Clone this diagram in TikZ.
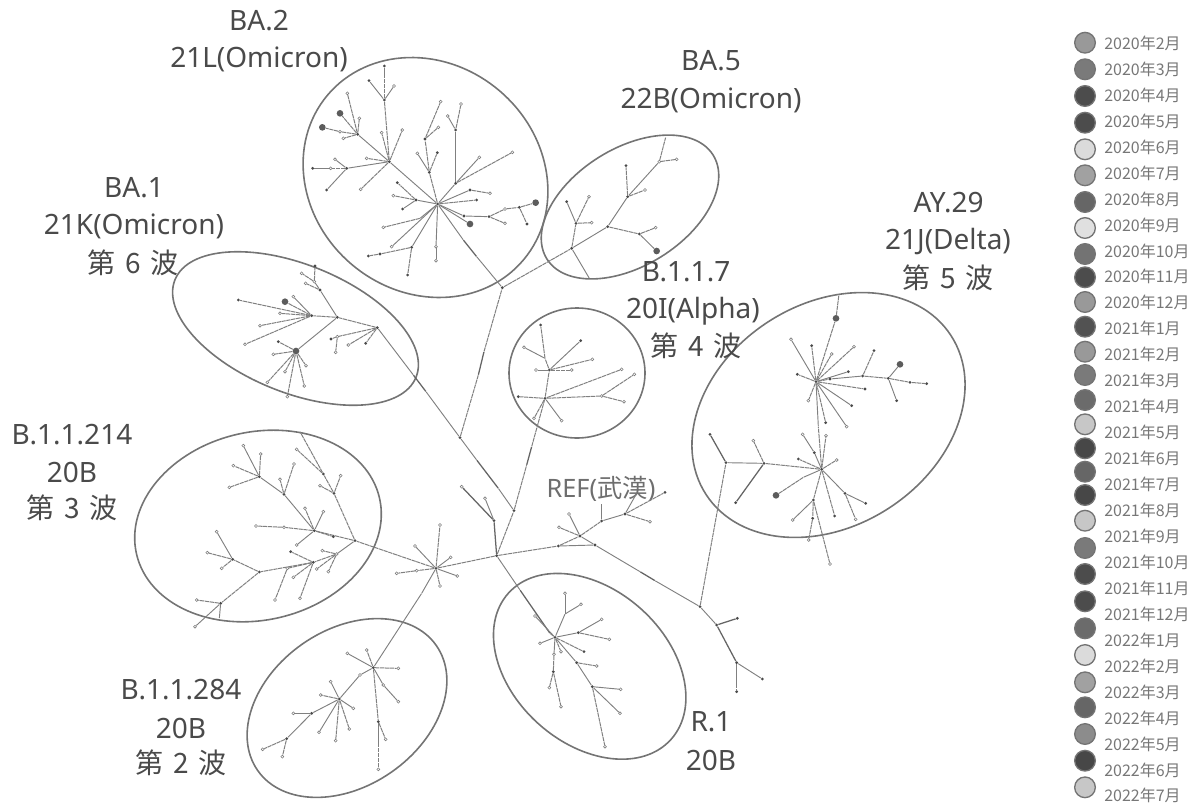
\documentclass[tikz,border=0pt]{standalone}
\usepackage{fontspec}
\usetikzlibrary{shapes.geometric}
\setmainfont{Noto Sans}
\newfontfamily\cjk{Noto Sans CJK JP}
\definecolor{ink}{HTML}{4A4A4A}
\definecolor{branch}{HTML}{808080}
\definecolor{ring}{HTML}{747474}
\tikzset{
  x=0.75pt,y=-0.75pt,
  dd/.style={circle,inner sep=0pt,minimum size=2.3pt,fill=ink},
  dl/.style={circle,inner sep=0pt,minimum size=2.2pt,fill=white,draw=branch,line width=0.45pt},
  db/.style={circle,inner sep=0pt,minimum size=5pt,fill=ink!90},
  dn/.style={circle,inner sep=0pt,minimum size=0pt},
  em/.style={draw=branch,line width=0.7pt},
  ef/.style={draw=branch,line width=0.75pt,dash pattern=on 3.2pt off 0.5pt},
  eh/.style={draw=ink!85,line width=0.95pt},
  clus/.style={ellipse,draw=ring,line width=1.2pt,inner sep=0pt},
  lab/.style={text=ink,font=\fontsize{21}{24}\selectfont,inner sep=0pt},
  wave/.style={text=ink,font=\cjk\fontsize{21}{24}\selectfont,inner sep=0pt},
  leglab/.style={text=ink!75,font=\cjk\fontsize{12}{14}\selectfont,inner sep=0pt,anchor=west},
  legdot/.style={circle,inner sep=0pt,minimum size=15.5pt,draw=ring,line width=1pt},
  z1/.style={shift={(290,50)},x=0.25pt,y=-0.25pt},
  z2/.style={shift={(130,250)},x=0.25pt,y=-0.25pt},
  z3/.style={shift={(130,500)},x=0.25pt,y=-0.25pt},
  z4/.style={shift={(480,290)},x=0.25pt,y=-0.25pt},
  z5/.style={shift={(680,280)},x=0.25pt,y=-0.25pt},
  z6/.style={shift={(480,540)},x=0.25pt,y=-0.25pt},
}
\newcommand{\grow}[1]{\foreach \n/\p/\xx/\yy/\k/\e in {#1}{\node[\k] (\n) at (\xx,\yy) {}; \draw[\e] (\p) -- (\n);}}
\newcommand{\wavetext}[1]{第\hspace{7pt}#1\hspace{7pt}波}
\begin{document}
\begin{tikzpicture}
\useasboundingbox (0,0) rectangle (1197,804);
% clusters
\node[clus,minimum width=192pt,minimum height=171pt,rotate=-40] (cBAb) at (425.5,177.5) {};
\node[clus,minimum width=147pt,minimum height=88pt,rotate=32] (cBAe) at (630,207) {};
\node[clus,minimum width=195pt,minimum height=96pt,rotate=-22] (cBAa) at (295.5,328.5) {};
\node[clus,minimum width=102pt,minimum height=97.5pt] (cAl) at (577,373) {};
\node[clus,minimum width=219pt,minimum height=166.5pt,rotate=33] (cAY) at (828.5,415) {};
\node[clus,minimum width=187pt,minimum height=141pt,rotate=13] (cTh) at (258,526) {};
\node[clus,minimum width=163.5pt,minimum height=117pt,rotate=35] (cSe) at (347,708) {};
\node[clus,minimum width=164pt,minimum height=115.5pt,rotate=-42] (cRa) at (589.7,666.3) {};
% labels
\node[lab] (l1) at (259,21) {BA.2};
\node[lab] (l2) at (259,59) {21L(Omicron)};
\node[lab] (l3) at (711,61) {BA.5};
\node[lab] (l4) at (711,100) {22B(Omicron)};
\node[lab] (l5) at (134,188) {BA.1};
\node[lab] (l6) at (134,226) {21K(Omicron)};
\node[wave] (l7) at (133,263) {\wavetext{6}};
\node[lab] (l8) at (686,272) {B.1.1.7};
\node[lab] (l9) at (693,311) {20I(Alpha)};
\node[wave] (l10) at (696,346) {\wavetext{4}};
\node[lab] (l11) at (948.7,203) {AY.29};
\node[lab] (l12) at (948,242) {21J(Delta)};
\node[wave] (l13) at (948,278) {\wavetext{5}};
\node[lab] (l14) at (72,435) {B.1.1.214};
\node[lab] (l15) at (72,472) {20B};
\node[wave] (l16) at (72,508) {\wavetext{3}};
\node[lab] (l17) at (181,690) {B.1.1.284};
\node[lab] (l18) at (181,728) {20B};
\node[wave] (l19) at (181,763) {\wavetext{2}};
\node[lab] (l20) at (711,722) {R.1};
\node[lab] (l21) at (711,760) {20B};
\node[text=ink!80,font=\fontsize{19}{22}\selectfont,inner sep=0pt] (l22) at (601,489) {REF({\cjk 武漢})};
% root and centre
\begin{scope}[z4]
\node[dd] (M) at (50,797) {};
\grow{X1/M/102/662/dd/ef,xh1/X1/140/525/dn/ef,xh2/xh1/155/470/dn/eh,T0/xh2/195/325/dd/ef,
t1/T0/115/320/dd/ef,t2/T0/162/385/dl/ef,t3/T0/245/392/dl/em,t4/T0/365/318/dl/ef,t5/t4/463/253/dl/ef,t6/t4/432/335/dl/ef,t7/T0/425/238/dl/ef,
T1/T0/208/240/dd/ef,t8/T1/195/205/dn/ef,t9/t8/182/105/dd/ef,t10/t8/132/172/dl/em,t11/T1/302/152/dd/em,t12/T1/337/208/dl/ef,t13/T1/168/240/dl/ef,t14/T1/275/240/dl/ef,
n1/M/235/768/dd/ef,N1/n1/300/738/dd/ef,n2/N1/237/712/dl/ef,n3/N1/267/672/dl/em,n4/N1/365/693/dd/ef,n5/n4/365/640/dn/em,N2/n4/435/672/dd/em,n6/N2/555/607/dd/ef,n7/N2/510/695/dl/ef,n8/N2/470/610/dn/em,N3/n1/345/765/dd/em,
m1/M/42/692/dd/eh,m2/m1/-55/590/dl/eh,m3/m1/15/625/dl/em}
\draw[em] (N1) -- (N3);
\end{scope}
% R.1
\begin{scope}[z6]
\grow{ka/N3/480/95/dn/em,kb/ka/525/122/dn/eh,K/kb/660/200/dd/em,
k1/K/710/255/dd/em,k3/k1/772/235/dd/eh,k2/k1/770/368/dd/eh,k4/k2/847/417/dd/em,k5/k2/770/455/dd/ef,
sa/M/120/150/dn/em,sb/sa/210/280/dn/eh,S0/sb/225/292/dd/em,
s1/S0/255/222/dn/em,s2/s1/255/160/dl/em,s3/s1/303/193/dl/em,s4/S0/165/228/dl/em,s5/S0/295/278/dd/em,s6/s5/365/238/dl/em,s7/s5/388/298/dl/ef,s8/S0/180/310/dl/em,s9/S0/312/335/dd/ef,s10/S0/243/335/dl/ef,
s11/S0/222/343/dl/em,s12/s11/220/395/dd/ef,s13/s12/208/443/dl/ef,s14/s12/243/500/dl/ef,
s15/S0/290/368/dd/em,s16/s15/350/378/dl/ef,s17/s15/337/440/dd/em,s18/s17/422/448/dl/em,s19/s17/420/520/dl/em,s20/s17/375/620/dl/ef}
\end{scope}
% AY.29
\begin{scope}[z5]
\grow{V0/K/138/548/dd/ef,v1/V0/90/463/dd/eh,v2/V0/252/550/dd/em,v3/v2/220/482/dl/ef,v4/v2/167/668/dd/eh,U1/v2/425/568/dd/ef,
w1/U1/403/518/dd/em,w2/w1/368/463/dl/em,w3/U1/438/467/dl/ef,w4/U1/355/537/dd/ef,w5/U1/470/540/dl/ef,w6/U1/370/592/dn/em,w7/w6/288/646/db/ef,w8/U1/464/708/dd/ef,w9/U1/495/640/dd/em,w10/w9/557/670/dd/em,w11/w9/527/718/dl/ef,
w12/U1/400/660/dd/ef,w13/w12/338/720/dl/em,w14/w12/398/715/dd/ef,w15/w14/386/780/dl/ef,w16/w12/450/852/dl/ef,
ua/U1/415/440/dn/ef,U0/ua/408/305/dd/em,
u1/U0/468/115/db/ef,u2/u1/477/42/dn/ef,u3/U0/333/178/dl/em,u4/U0/395/197/dd/ef,u5/U0/522/200/dl/ef,u6/U0/455/222/dl/ef,u7/U0/352/283/dd/ef,u8/U0/385/362/dl/ef,u9/U0/555/327/dd/ef,u10/U0/515/377/dd/em,u11/U0/500/440/dl/em,u12/U0/437/428/dd/ef,u13/U0/505/275/dd/em,
u14/U0/450/297/dd/ef,u15/u14/548/288/dd/em,u16/u15/582/212/dd/ef,u17/u15/625/295/dd/ef,u18/u17/660/253/db/em,u19/u17/690/307/dd/ef,u20/u19/740/311/dd/ef,u21/u17/650/362/dd/em}
\end{scope}
% hub, B.1.1.284, lower part of B.1.1.214
\begin{scope}[z3]
\grow{H0/M/918/205/dd/ef,h1/H0/930/75/dl/ef,h2/H0/855/138/dl/em,h3/H0/962/172/dl/em,h4/H0/982/228/dl/em,h5/H0/930/258/dl/ef,h6/H0/860/212/dl/ef,h7/h6/800/220/dl/ef,
pa/H0/875/280/dn/em,P0/pa/730/503/dd/em,p1/P0/652/460/dl/em,p2/P0/710/450/dl/ef,p3/P0/805/505/dl/ef,p4/P0/760/555/dl/em,p5/p4/805/605/dl/em,p6/P0/745/665/dd/ef,p7/p6/745/808/dl/ef,p8/p6/767/718/dl/ef,
p9/P0/690/525/dl/em,P1/p9/628/597/dd/em,p10/P1/602/545/dl/em,p11/P1/572/585/dl/ef,p12/P1/670/625/dl/em,p13/P1/658/687/dl/ef,p14/P1/617/722/dl/ef,p15/P1/567/697/dl/em,p16/P1/545/640/dd/em,p17/p16/490/640/dl/em,p18/p16/470/716/dd/em,p19/p18/398/748/dl/ef,p20/p18/457/770/dl/ef,
C0/H0/675/122/dd/ef,C1/C0/553/92/dd/ef,c1/C0/620/162/dl/em,C3/c1/550/187/dd/ef,C4/C3/388/216/dd/ef,c2/c1/577/152/dl/ef,c3/c1/560/207/dl/ef,c4/c1/595/215/dl/ef,
c5/C3/482/155/dd/ef,c6/C3/490/232/dl/ef,c7/C3/510/295/dl/ef,c8/C3/472/205/dl/ef,c9/c8/435/300/dl/ef,
c10/C4/308/178/dd/ef,c11/c10/260/95/dl/em,c12/c10/232/158/dl/ef,c13/c10/275/205/dl/ef,
c14/C4/272/310/dd/ef,c15/c14/195/380/dl/em,c16/c14/200/300/dl/ef,c17/c14/268/355/dn/em,
c18/C1/462/82/dl/ef,c19/c18/378/78/dl/ef,c20/C1/610/110/dd/ef,c21/C1/525/25/dl/ef,c22/C1/580/35/dl/em,c23/C1/500/135/dl/em}
\end{scope}
% upper part of B.1.1.214, BA.1, trunk
\begin{scope}[z2]
\grow{g1/C0/612/730/dd/ef,g2/g1/580/672/dd/ef,g3/g2/510/545/dn/ef,g4/g2/500/598/dl/ef,g5/g1/570/707/dl/ef,g6/g1/632/677/dl/ef,
g7/C1/462/733/dd/em,g8/g7/388/680/dd/em,g9/g8/340/587/dl/em,g10/g8/392/612/dl/ef,g11/g8/310/647/dl/ef,g12/g8/298/712/dl/ef,g13/g7/450/688/dl/ef,g14/g7/492/642/dl/ef,
xa/X1/1105/715/dn/em,xb/xa/1040/630/dn/eh,J2/xb/990/563/dd/em,ja/J2/1045/375/dn/ef,jb/ja/1062/305/dn/eh,J1/jb/1117/113/dd/ef,
ra/J2/888/425/dn/em,rb/ra/850/375/dn/eh,R0/rb/742/233/dd/em,
R1/R0/622/202/dd/ef,R2/R1/545/197/dd/ef,r1/R2/325/150/dd/ef,r2/R2/465/155/db/ef,r3/R2/490/140/dl/em,r4/R2/450/190/dl/ef,r5/R2/390/227/dl/ef,r6/R2/345/283/dl/ef,
r7/R1/570/120/dd/em,r8/r7/553/95/dl/em,r9/r8/555/48/dd/ef,r10/r8/515/70/dl/ef,r11/r7/527/100/dl/ef,
R3/R1/498/303/db/em,r12/R3/445/275/dd/ef,r13/R3/430/313/dl/ef,r14/R3/528/347/dl/ef,r15/R3/523/408/dl/ef,r16/R3/472/440/dl/ef,r17/R3/412/397/dl/ef,r18/R3/465/365/dl/ef,
r19/R0/622/260/dl/ef,r20/r19/603/267/dd/em,r21/r19/617/307/dl/ef,r22/R0/655/285/dl/ef,r23/R0/707/280/dd/ef}
\end{scope}
% BA.2, BA.5
\begin{scope}[z1]
\grow{ba/J1/560/620/dn/em,bb/ba/520/570/dn/eh,B0/bb/443/462/dd/em,
B1/B0/298/335/dd/em,B2/B1/203/253/dd/em,b1/B2/150/190/db/ef,b2/B2/172/130/dl/ef,b3/B2/208/205/dl/ef,b4/B2/160/265/dl/ef,b5/B2/150/245/dl/ef,b6/b5/97/232/db/ef,
b7/B1/283/150/dd/ef,b8/b7/283/48/dd/ef,b9/b7/237/92/dd/em,b10/b7/312/108/dl/em,b11/B1/275/248/dl/ef,b12/B1/337/240/dl/ef,b13/B1/230/325/dl/ef,
b14/B1/170/355/dd/em,b15/b14/122/355/dl/ef,b16/b15/68/355/dd/em,b17/b14/135/328/dl/em,b18/b14/110/420/dd/em,b19/B1/212/418/dl/ef,
b20/B0/378/450/dd/em,b21/b20/322/398/dd/ef,b22/b20/310/437/dl/ef,b23/b20/338/477/dd/em,
b24/B0/418/367/dd/ef,b25/b24/405/267/dd/ef,b26/b25/452/155/dl/ef,b27/b25/445/232/dl/ef,b28/b24/382/310/dl/em,b29/b24/442/308/dd/ef,
b30/B0/497/400/dd/em,b31/b30/497/240/dd/em,b32/b31/473/198/dl/em,b33/b31/513/162/dl/ef,b34/b30/568/322/dl/em,b35/b30/667/307/dl/ef,
b36/B0/540/420/dd/em,b37/b36/600/430/dl/ef,b38/B0/560/450/dd/ef,
b39/B0/522/498/dd/em,b40/b39/597/500/dd/em,b41/b40/645/477/dl/ef,b42/b41/688/472/dd/ef,b43/b42/737/458/db/ef,b44/b42/711/522/dd/ef,b45/b40/645/520/dl/ef,b46/B0/540/522/db/em,
b47/B0/390/505/dn/em,b48/b47/280/532/dl/ef,b49/B0/305/590/dl/em,b50/B0/365/592/dd/em,b51/b50/270/612/dd/ef,b52/b51/235/618/dd/ef,b53/b50/353/675/dd/ef,b54/B0/438/590/dl/em,b55/b54/438/632/dl/ef,
A1/J1/845/595/dd/ef,A2/A1/953/530/dd/em,A3/A2/1013/440/dd/em,A4/A3/1108/335/dl/em,a1/A4/1127/262/dn/ef,a2/A4/1160/328/dl/ef,a3/A3/1008/347/dd/ef,a4/A3/1065/420/dl/ef,
a5/A2/1048/552/dd/ef,a6/a5/1097/533/dl/ef,a7/a5/1100/603/db/em,a8/A1/858/520/dd/ef,a9/a8/830/455/dd/em,a10/a8/897/440/dl/ef,a11/a8/905/518/dl/ef,a12/A1/898/685/dn/em}
\end{scope}
% legend
\foreach \lab/\shade/\cy [count=\i from 0] in {
2020年2月/40/42.7,2020年3月/52/69.3,2020年4月/70/96,2020年5月/70/122.7,2020年6月/14/149.3,2020年7月/37/175.3,2020年8月/60/202,2020年9月/12/228,2020年10月/55/254,2020年11月/70/277.3,2020年12月/40/302,
2021年1月/68/326.7,2021年2月/40/351.7,2021年3月/52/375,2021年4月/58/400,2021年5月/22/424.3,2021年6月/72/448.3,2021年7月/60/471.7,2021年8月/72/495,2021年9月/22/520.7,2021年10月/52/548,2021年11月/70/574,2021年12月/70/601.3,
2022年1月/58/628.3,2022年2月/14/655,2022年3月/37/682.3,2022年4月/60/707.3,2022年5月/45/734,2022年6月/72/760.7,2022年7月/22/787.3}{
  \node[legdot,fill=black!\shade!white] (d\i) at (1085,\cy) {};
  \node[leglab] (e\i) at (1104,43.3+25.95*\i) {\lab};
}
\end{tikzpicture}
\end{document}
